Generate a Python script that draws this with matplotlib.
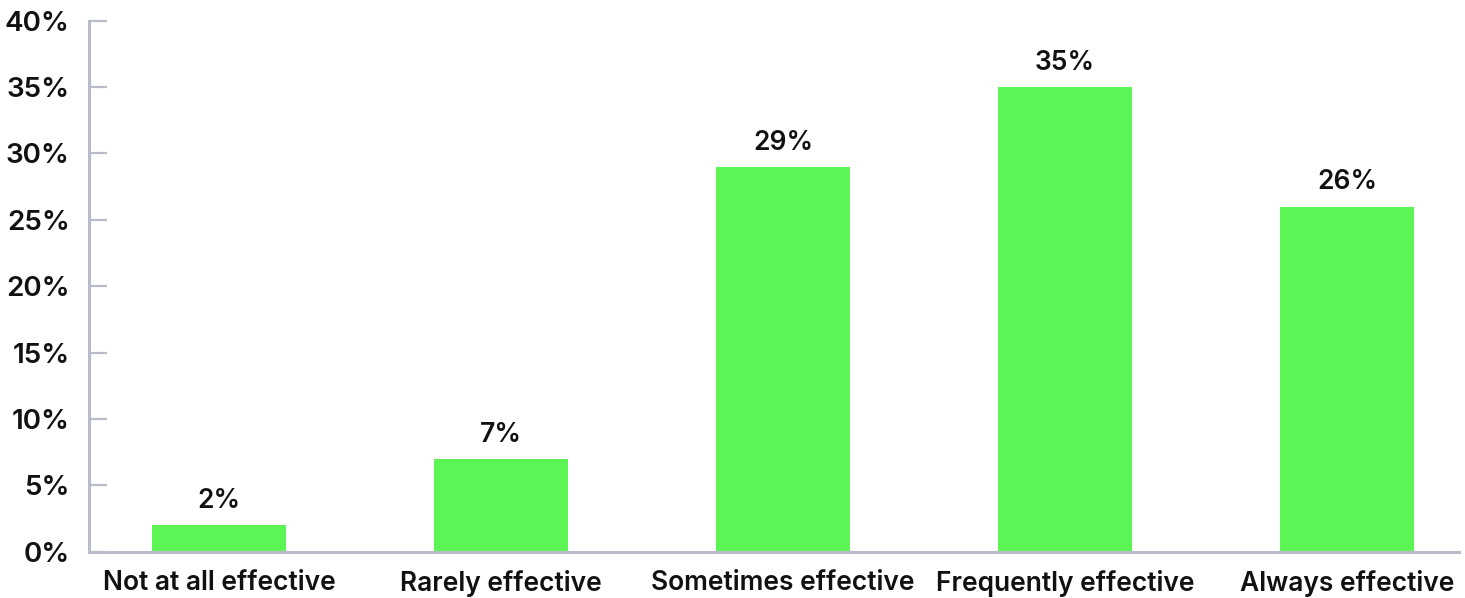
import matplotlib
matplotlib.use("Agg")
import matplotlib.pyplot as plt
from matplotlib.ticker import FixedLocator, FuncFormatter

categories = ["Not at all effective", "Rarely effective", "Sometimes effective",
              "Frequently effective", "Always effective"]
shares = [2, 7, 29, 35, 26]
y_ticks = [0, 5, 10, 15, 20, 25, 30, 35, 40]

bar_color = "#5df556"
axis_color = "#b8bcc8"
text_color = "#111111"
font = ["Inter", "DejaVu Sans"]
weight = "semibold"
size = 19
ytick_size = 20

plt.rcParams["font.family"] = font

fig = plt.figure(figsize=(14.65, 5.98), dpi=100)
ax = fig.add_axes([0.0608, 0.0774, 0.9351, 0.888])

x = list(range(len(categories)))
bars = ax.bar(x, shares, width=0.475, color=bar_color, zorder=2)

for xi, v in zip(x, shares):
    ax.annotate(f"{v}%", xy=(xi, v), xytext=(0, 8), textcoords="offset points",
                ha="center", va="bottom", fontsize=size, fontweight=weight,
                color=text_color)

ax.set_xlim(-0.461, 4.397)
ax.set_ylim(0, 40)
ax.yaxis.set_major_locator(FixedLocator(y_ticks))
ax.yaxis.set_major_formatter(FuncFormatter(lambda v, p: f"{v:.0f}%"))
ax.set_xticks(x)
ax.set_xticklabels(categories)

for side in ("top", "right"):
    ax.spines[side].set_visible(False)
for side in ("left", "bottom"):
    ax.spines[side].set_color(axis_color)
    ax.spines[side].set_linewidth(2.2)

ax.tick_params(axis="y", direction="in", length=13, width=1.6, color=axis_color,
               pad=14, labelsize=ytick_size, labelcolor=text_color)
ax.tick_params(axis="x", length=0, pad=13, labelsize=size, labelcolor=text_color)
for lbl in ax.get_xticklabels() + ax.get_yticklabels():
    lbl.set_fontweight(weight)

fig.savefig("out.png", dpi=100)
